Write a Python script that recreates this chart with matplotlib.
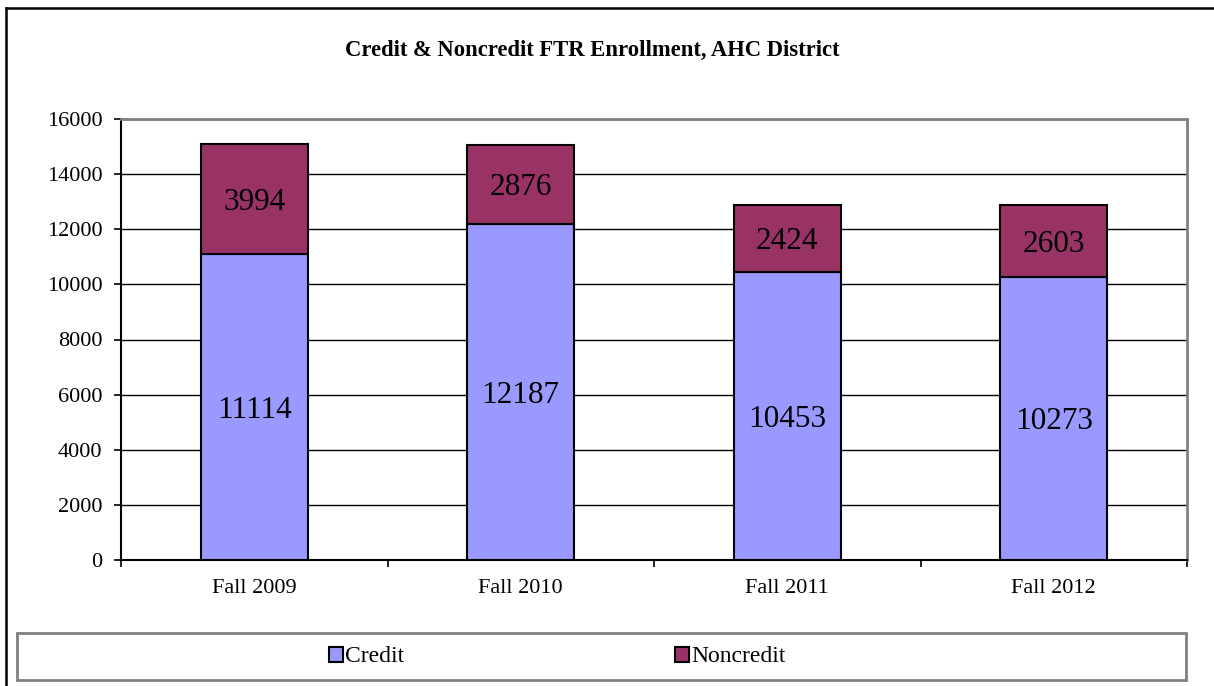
import matplotlib.pyplot as plt
from matplotlib.lines import Line2D
from matplotlib.patches import Rectangle, Patch

plt.rcParams['font.family'] = ['Liberation Serif', 'DejaVu Serif']

# data
categories = ['Fall 2009', 'Fall 2010', 'Fall 2011', 'Fall 2012']
credit = [11114, 12187, 10453, 10273]
noncredit = [3994, 2876, 2424, 2603]

col_credit = '#9999FF'
col_noncredit = '#993366'

fig = plt.figure(figsize=(12.14, 6.86), dpi=100)
W, H = 1214, 686
ax = fig.add_axes([121 / W, 1 - 560 / H, (1187 - 121) / W, (560 - 119) / H])

x = list(range(len(categories)))
ax.bar(x, credit, width=0.4, color=col_credit, edgecolor='black', linewidth=1.5, zorder=3)
ax.bar(x, noncredit, width=0.4, bottom=credit, color=col_noncredit, edgecolor='black',
       linewidth=1.5, zorder=3)

for i in x:
    ax.text(i, credit[i] / 2, str(credit[i]), ha='center', va='center_baseline',
            fontsize=22.5, zorder=4)
    ax.text(i, credit[i] + noncredit[i] / 2, str(noncredit[i]), ha='center',
            va='center_baseline', fontsize=22.5, zorder=4)

ax.set_xlim(-0.5, 3.5)
ax.set_ylim(0, 16000)
ax.set_yticks(range(0, 16001, 2000))
ax.yaxis.grid(True, color='black', linewidth=1.0, zorder=0)
ax.set_axisbelow(True)

# category boundaries as major ticks, labels on minor ticks
ax.set_xticks([-0.5, 0.5, 1.5, 2.5, 3.5])
ax.set_xticklabels([])
ax.set_xticks(x, minor=True)
ax.set_xticklabels(categories, minor=True)
ax.tick_params(axis='x', which='major', direction='out', length=5, width=1.2, color='black')
ax.tick_params(axis='x', which='minor', length=0, pad=13.5, labelsize=16)
ax.tick_params(axis='y', direction='out', length=5, width=1.2, pad=8.5, labelsize=16)

for side in ['left', 'bottom']:
    ax.spines[side].set_color('black')
    ax.spines[side].set_linewidth(1.5)
for side in ['top', 'right']:
    ax.spines[side].set_color('#808080')
    ax.spines[side].set_linewidth(2)

fig.text(592 / W, 1 - 50 / H, 'Credit & Noncredit FTR Enrollment, AHC District',
         ha='center', va='center', fontsize=16.3, fontweight='bold')

# outer chart frame (left and top edges visible)
fig.add_artist(Line2D([6 / W, 6 / W], [0, 1 - 8 / H], color='black', linewidth=1.8,
                      transform=fig.transFigure))
fig.add_artist(Line2D([6 / W, 1], [1 - 8 / H, 1 - 8 / H], color='black', linewidth=1.8,
                      transform=fig.transFigure))

# legend box
fig.add_artist(Rectangle((17 / W, 1 - 680 / H), (1186 - 17) / W, (680 - 633) / H,
                         transform=fig.transFigure, facecolor='none', edgecolor='#808080',
                         linewidth=2))
handles = [Patch(facecolor=col_credit, edgecolor='black', linewidth=1.5),
           Patch(facecolor=col_noncredit, edgecolor='black', linewidth=1.5)]
fig.legend(handles, ['Credit', 'Noncredit'], loc='center left',
           bbox_to_anchor=(317 / W, 1 - 657 / H), ncol=2, frameon=False, fontsize=17,
           handlelength=0.6, handleheight=0.6, handletextpad=0.1, columnspacing=11.45,
           borderpad=0)

fig.savefig('out.png', dpi=100)
